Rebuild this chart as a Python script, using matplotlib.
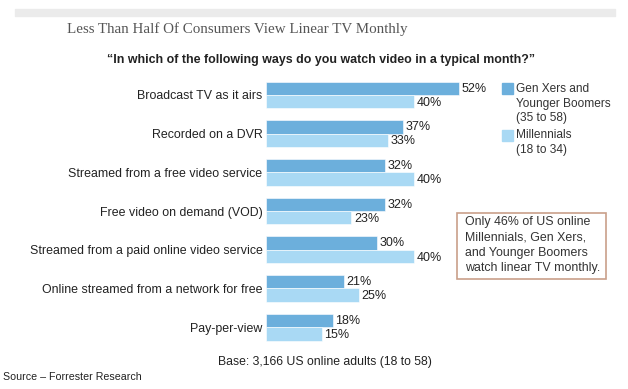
import matplotlib
matplotlib.use("Agg")
import matplotlib.pyplot as plt
import matplotlib.patches as mpatches
import numpy as np

# data
categorias = [
    "Broadcast TV as it airs",
    "Recorded on a DVR",
    "Streamed from a free video service",
    "Free video on demand (VOD)",
    "Streamed from a paid online video service",
    "Online streamed from a network for free",
    "Pay-per-view",
]
genx = [52, 37, 32, 32, 30, 21, 18]
millennials = [40, 33, 40, 23, 40, 25, 15]

DARK_BLUE = "#6cafdc"
LIGHT_BLUE = "#a9d9f4"
TXT = "#222222"

plt.rcParams["font.family"] = ["Liberation Sans", "DejaVu Sans"]

W, H = 628, 389
fig = plt.figure(figsize=(W / 100, H / 100), dpi=100)
fig.patch.set_facecolor("white")

def fx(px):
    return px / W

def fy(py):
    return 1 - py / H

# faint band at top
fig.patches.append(mpatches.Rectangle((fx(15), fy(16)), fx(600), 7 / H,
                                      transform=fig.transFigure,
                                      color="#ebebeb", zorder=0))

# axes: bars start at x=266, ~3.71 px per %
ax_left, ax_top, ax_bot = 266, 75.6, 346.5
ax = fig.add_axes([fx(ax_left), fy(ax_bot), fx(371), (ax_bot - ax_top) / H])
ax.set_xlim(0, 100)
y = np.arange(len(categorias))
h = 0.345
ax.barh(y - h / 2, genx, height=h, color=DARK_BLUE, edgecolor="white", linewidth=0.4)
ax.barh(y + h / 2, millennials, height=h, color=LIGHT_BLUE, edgecolor="white", linewidth=0.4)
ax.set_ylim(len(categorias) - 0.5, -0.5)

for yi, a, b in zip(y, genx, millennials):
    ax.text(a + 0.7, yi - h / 2 + 0.01, f"{a}%", va="center", ha="left", fontsize=9, color=TXT)
    ax.text(b + 0.7, yi + h / 2 + 0.03, f"{b}%", va="center", ha="left", fontsize=9, color=TXT)

ax.set_yticks(y)
ax.set_yticklabels(categorias, fontsize=8.95, color=TXT)
ax.tick_params(axis="y", length=0, pad=2.5)
ax.set_xticks([])
for s in ax.spines.values():
    s.set_visible(False)

# titles
fig.text(fx(67), fy(29), "Less Than Half Of Consumers View Linear TV Monthly",
         family="Liberation Serif", fontsize=10.8, color="#555555", va="center")
fig.text(fx(321), fy(60), "\u201cIn which of the following ways do you watch video in a typical month?\u201d",
         fontsize=8.9, fontweight="bold", color=TXT, ha="center", va="center")
fig.text(fx(325), fy(362), "Base: 3,166 US online adults (18 to 58)",
         fontsize=8.85, color=TXT, ha="center", va="center")
fig.text(fx(3), fy(377), "Source \u2013 Forrester Research",
         fontsize=7.7, color=TXT, ha="left", va="center")

# legend
for ytop, col, lines in [(83, DARK_BLUE, ["Gen Xers and", "Younger Boomers", "(35 to 58)"]),
                         (130, LIGHT_BLUE, ["Millennials", "(18 to 34)"])]:
    fig.patches.append(mpatches.Rectangle((fx(502), fy(ytop + 11)), fx(11), 11 / H,
                                          transform=fig.transFigure, color=col))
    for i, t in enumerate(lines):
        fig.text(fx(516), fy(ytop + 5.5 + i * 15), t, fontsize=8.6, color="#333333", va="center")

# note box
fig.patches.append(mpatches.Rectangle((fx(456.5), fy(279)), fx(149.5), 66.5 / H,
                                      transform=fig.transFigure, facecolor="white",
                                      edgecolor="#c9a08a", linewidth=1.2))
note = ["Only 46% of US online", "Millennials, Gen Xers,", "and Younger Boomers", "watch linear TV monthly."]
for i, t in enumerate(note):
    fig.text(fx(465), fy(222 + i * 15.3), t, fontsize=8.9, color="#333333", va="center")

fig.savefig("out.png", dpi=100)
